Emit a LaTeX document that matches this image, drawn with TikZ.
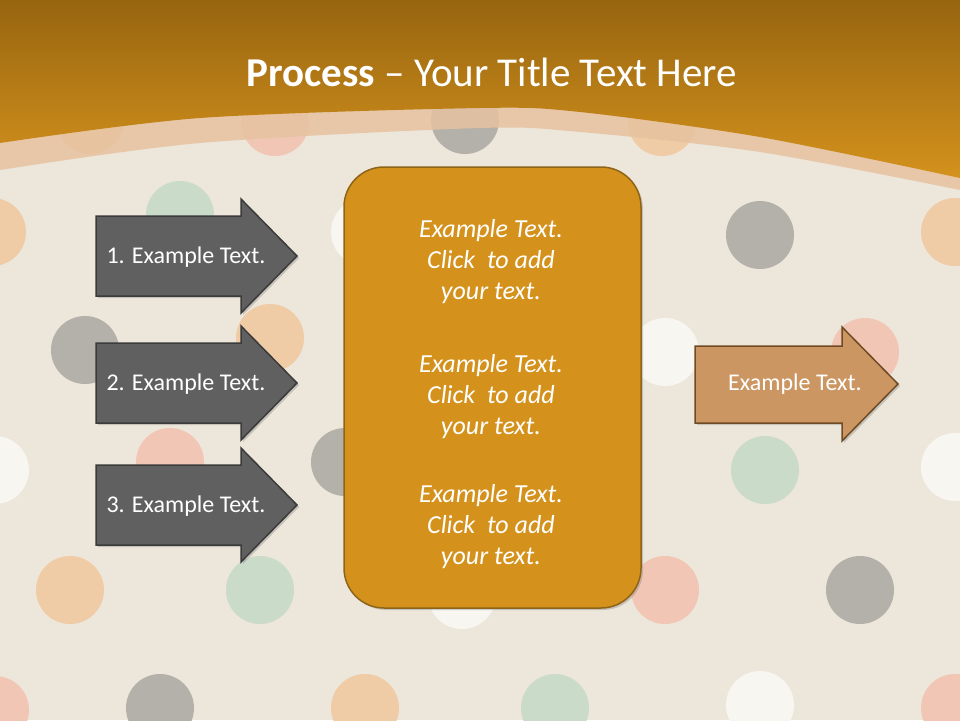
\documentclass[tikz,border=0pt]{standalone}
\usepackage{fontspec}
\setmainfont{Carlito}
\usetikzlibrary{shadows}

\definecolor{cream}{HTML}{EDE6DA}
\definecolor{dotgray}{HTML}{B4B0AA}
\definecolor{dotpeach}{HTML}{EFCBA6}
\definecolor{dotpink}{HTML}{F1C6B5}
\definecolor{dotgreen}{HTML}{CADCC9}
\definecolor{dotwhite}{HTML}{F8F6F0}
\definecolor{bandpeach}{HTML}{E6C2A0}
\definecolor{headorange}{HTML}{D4921D}
\definecolor{headtop}{HTML}{97650F}
\definecolor{stepgray}{HTML}{606060}
\definecolor{stepline}{HTML}{3B3B3B}
\definecolor{panelline}{HTML}{8E6518}
\definecolor{resultfill}{HTML}{CB9661}
\definecolor{resultline}{HTML}{6E4B25}

\begin{document}
\begin{tikzpicture}[x=1pt,y=-1pt,
    shapeshadow/.style={drop shadow={shadow xshift=2pt,shadow yshift=-2pt,opacity=.35}},
    steparrow/.style={fill=stepgray,draw=stepline,line width=1.5pt,shapeshadow},
    resultarrow/.style={fill=resultfill,draw=resultline,line width=1.5pt,shapeshadow},
    panel/.style={fill=headorange,draw=panelline,line width=1.5pt,rounded corners=40pt,
        minimum width=297pt,minimum height=441pt,shapeshadow},
    label/.style={white,anchor=base,font=\fontsize{24}{28}\selectfont},
    paneltext/.style={white,align=center,font=\fontsize{26}{31}\selectfont\itshape}]
    \useasboundingbox (0,0) rectangle (960,720);
    \fill[cream] (0,0) rectangle (960,720);
    % polka dots
    \foreach \x/\y/\c in {90/120/dotpeach, 275/122/dotpink, 465/120/dotgray, 662/122/dotpeach, 860/120/dotgray,
        -8/232/dotpeach, 180/215/dotgreen, 365/232/dotwhite, 760/235/dotgray, 955/232/dotpeach,
        85/350/dotgray, 270/338/dotpeach, 470/350/dotgray, 665/352/dotwhite, 865/352/dotpink,
        -5/470/dotwhite, 170/462/dotpink, 345/462/dotgray, 765/470/dotgreen, 955/467/dotwhite,
        70/590/dotpeach, 260/590/dotgreen, 462/595/dotwhite, 665/590/dotpink, 860/590/dotgray,
        -5/710/dotpink, 160/708/dotgray, 365/708/dotpeach, 555/708/dotgreen, 760/705/dotwhite, 955/708/dotpink}
        \fill[\c] (\x,\y) circle (34);
    % header
    \fill[bandpeach,opacity=.85] (0,0) -- plot[smooth] coordinates {(0,170) (200,143) (480,128) (580,132) (760,152) (960,190)} -- (960,0) -- cycle;
    \shade[top color=headtop,middle color=headorange,bottom color=headorange] (0,0) -- plot[smooth] coordinates {(0,143) (200,118) (480,108) (580,112) (760,137) (960,178)} -- (960,0) -- cycle;
    \node[white,anchor=base,font=\fontsize{41}{48}\selectfont] (title) at (492,86) {\textbf{Process} -- Your Title Text Here};
    % left arrows
    \foreach \c/\n in {256/1, 383/2, 505/3} {
        \draw[steparrow] (96,\c-40) -- (241,\c-40) -- (241,\c-57) -- (297,\c) -- (241,\c+57) -- (241,\c+40) -- (96,\c+40) -- cycle;
        \node[label] (step\n) at (186,\c+7) {\n. Example Text.};
    }
    % middle box
    \node[panel] (box) at (492.5,387.5) {};
    \node[paneltext] (info1) at (491,262) {Example Text.\\Click\ \ to add\\your text.};
    \node[paneltext] (info2) at (491,397) {Example Text.\\Click\ \ to add\\your text.};
    \node[paneltext] (info3) at (491,527) {Example Text.\\Click\ \ to add\\your text.};
    % right arrow
    \draw[resultarrow] (695,346) -- (842,346) -- (842,327) -- (898,384) -- (842,441) -- (842,423) -- (695,423) -- cycle;
    \node[label] (result) at (795,390) {Example Text.};
\end{tikzpicture}
\end{document}
